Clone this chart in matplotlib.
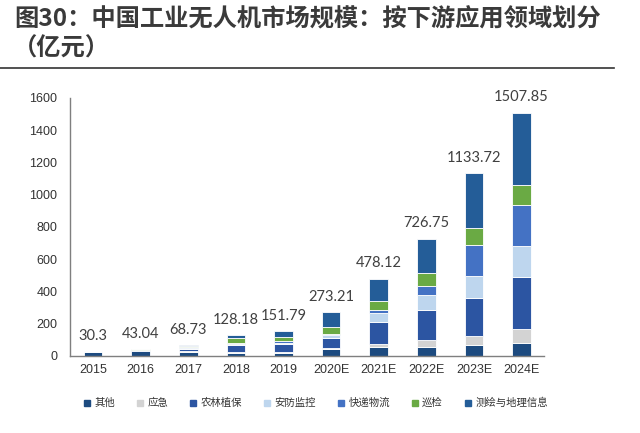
import matplotlib
matplotlib.use("Agg")
import matplotlib.pyplot as plt
import numpy as np
from matplotlib.lines import Line2D

plt.rcParams['font.family'] = ['Noto Sans CJK SC', 'DejaVu Sans']

years = ["2015", "2016", "2017", "2018", "2019", "2020E", "2021E", "2022E", "2023E", "2024E"]
totals = [30.3, 43.04, 68.73, 128.18, 151.79, 273.21, 478.12, 726.75, 1133.72, 1507.85]

series_names = ["其他", "应急", "农林植保", "安防监控", "快递物流", "巡检", "测绘与地理信息"]
qita     = [22, 28, 25, 20, 21, 41, 54, 58, 66, 83]
yingji   = [1, 1, 4, 6, 6, 6, 19, 41, 58, 83]
nonglin  = [4, 3, 17, 42, 48, 63, 136, 187, 234, 321]
anfang   = [1, 1, 6, 8, 8, 20, 60, 89, 135, 196]
kuaidi   = [1, 1, 3, 5, 7, 7, 17, 56, 192, 253]
xunjian  = [1, 8, 5, 28, 30, 41, 57, 82, 110, 124]
cehui    = [0.3, 1.04, 8.73, 19.18, 31.79, 95.21, 135.12, 213.75, 338.72, 447.85]

colors = ["#1d4b80", "#d3d3d3", "#2c55a2", "#bed6ee", "#4472c4", "#6aaa44", "#245d98"]

fig = plt.figure(figsize=(6.4, 4.33), dpi=100)
ax = fig.add_axes([0.109, 0.178, 0.741, 0.596])

x = np.arange(len(years))
width = 0.39
bottom = np.zeros(len(years))
for vals, c in zip([qita, yingji, nonglin, anfang, kuaidi, xunjian, cehui], colors):
    v = np.array(vals, dtype=float)
    ax.bar(x, v, width, bottom=bottom, color=c, edgecolor="white", linewidth=0.6)
    bottom += v

for xi, t in zip(x, totals):
    ax.annotate(f"{t:g}", (xi, t), xytext=(0, 6), textcoords="offset points",
                ha="center", va="bottom", fontsize=10.5, color="#404040",
                family="Lato", annotation_clip=False)

ax.set_ylim(0, 1600)
ax.set_xlim(-0.49, 9.47)
ax.set_yticks(np.arange(0, 1601, 200))
ax.set_xticks(x)
ax.set_xticklabels(years)
ax.tick_params(axis="both", length=0, labelsize=9, colors="#333333", pad=6)
ax.tick_params(axis="y", pad=9)
for lab in ax.get_xticklabels() + ax.get_yticklabels():
    lab.set_family("Liberation Sans")
for s in ["top", "right"]:
    ax.spines[s].set_visible(False)
for s in ["left", "bottom"]:
    ax.spines[s].set_color("#7f7f7f")
    ax.spines[s].set_linewidth(1.0)

handles = [Line2D([0], [0], marker="s", color="none", markerfacecolor=c,
                  markeredgecolor=c, markersize=4) for c in colors]
fig.legend(handles, series_names, loc="center", bbox_to_anchor=(0.493, 0.069),
           ncol=7, frameon=False, fontsize=7.5, handletextpad=0.3,
           columnspacing=2.0, handlelength=0.8, labelcolor="#333333")

fig.text(0.023, 0.955, "图30：中国工业无人机市场规模：按下游应用领域划分", fontsize=17.5,
         fontweight="heavy", color="#3a3a3a", va="center", ha="left")
fig.text(0.02, 0.888, "（亿元）", fontsize=17.5, fontweight="heavy",
         color="#3a3a3a", va="center", ha="left")
fig.add_artist(Line2D([0.0, 0.96], [0.843, 0.843], color="#333333", linewidth=1.2,
                      transform=fig.transFigure))

fig.savefig("out.png", dpi=100, facecolor="white")
